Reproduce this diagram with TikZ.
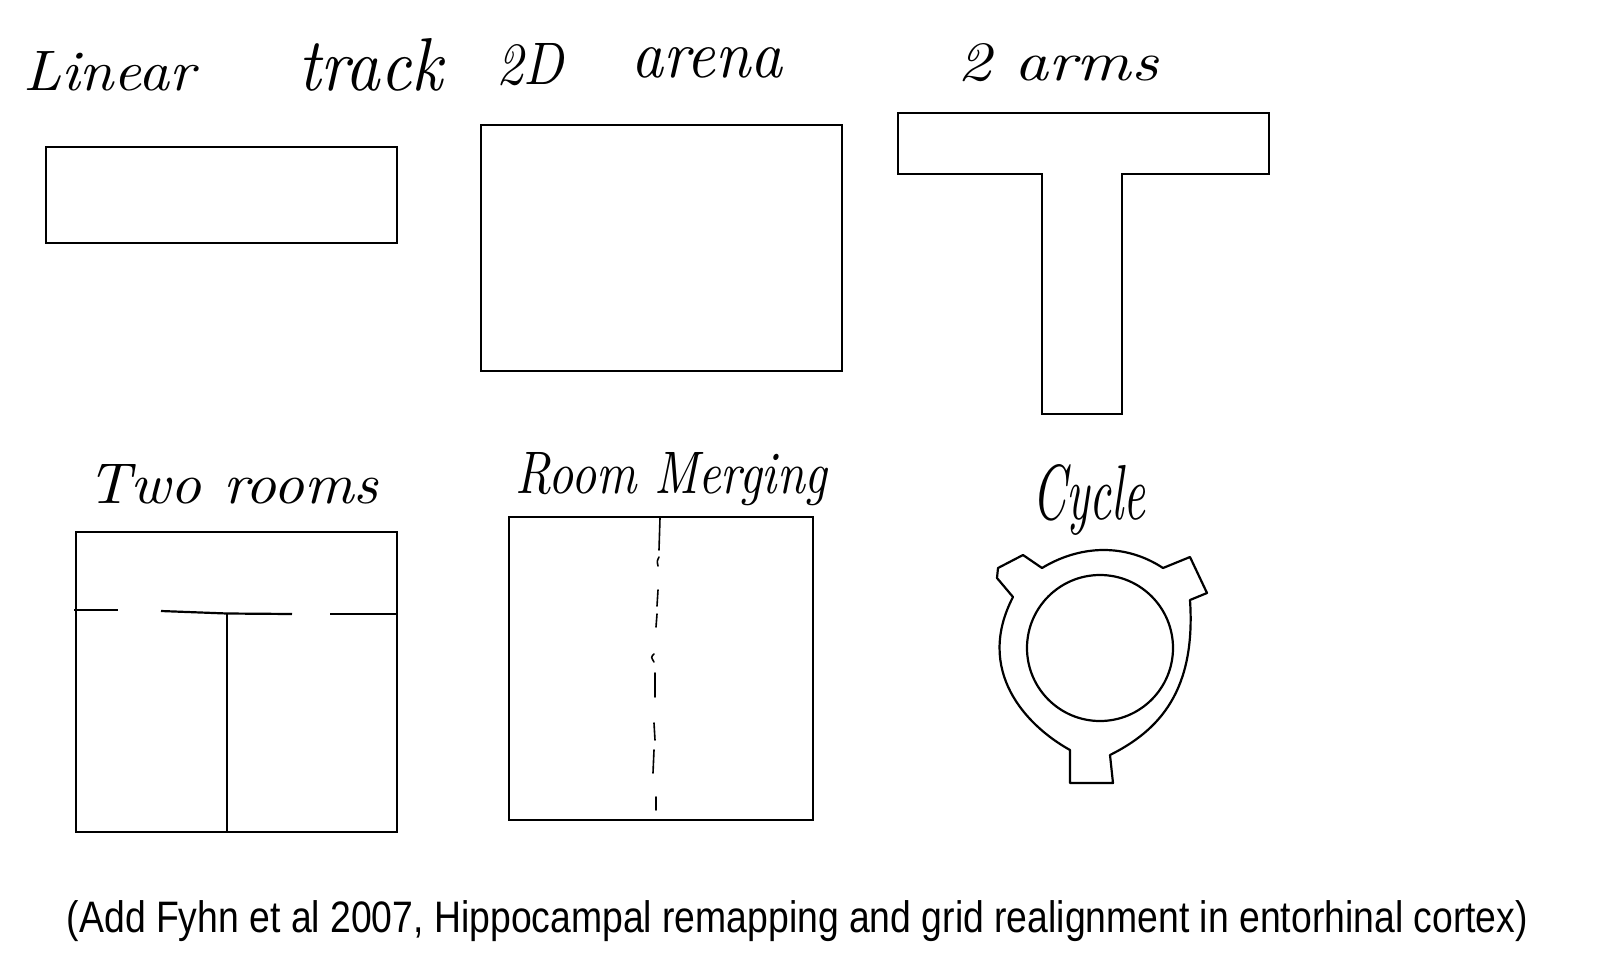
\documentclass[tikz,border=0pt]{standalone}
\usepackage{fontspec}
\setmainfont{Liberation Sans}
\newfontfamily\handfont{Latin Modern Roman}
\newcommand{\hwlabel}[3]{\resizebox{#1pt}{#2pt}{\handfont\itshape #3}}
\begin{document}
\begin{tikzpicture}[x=1pt,y=-1pt,
  wall/.style={draw=black, line width=2.2pt, line join=miter},
  room/.style={wall, inner sep=0pt, outer sep=0pt},
  hand/.style={inner sep=0pt, anchor=base west},
  dashwall/.style={draw=black, line width=1.6pt, line cap=round}]
\useasboundingbox (0,0) rectangle (1610,962);
\fill[white] (0,0) rectangle (1610,962);

% labels
\node[hand] (lLinear) at (23,90) {\hwlabel{172}{39}{Linear}};
\node[hand] (lTrack) at (298,90) {\hwlabel{144}{52}{track}};
\node[hand] (l2D) at (496,84) {\hwlabel{67}{41}{2D}};
\node[hand] (lArena) at (631,77) {\hwlabel{151}{30}{arena}};
\node[hand] (lArms) at (957,80) {\hwlabel{201}{37}{2 arms}};
\node[hand] (lTwo) at (87,503) {\hwlabel{291}{39}{Two rooms}};
\node[hand] (lMerge) at (515,493) {\hwlabel{312}{41}{Room Merging}};
\node[hand] (lCycle) at (1032,519) {\hwlabel{113}{55}{Cycle}};

% linear track
\node[room, minimum width=351pt, minimum height=96pt] (linear) at (221.5,195) {};
% 2D arena
\node[room, minimum width=361pt, minimum height=246pt] (arena) at (661.5,248) {};
% T maze
\draw[wall] (898,113) -- (1269,113) -- (1269,174) -- (1122,174) -- (1122,414)
  -- (1042,414) -- (1042,174) -- (898,174) -- cycle;

% two rooms
\node[room, minimum width=321pt, minimum height=300pt] (tworooms) at (236.5,682) {};
\coordinate (wA) at (74,610);
\coordinate (wB) at (118,610);
\coordinate (wC) at (161,611);
\coordinate (wD) at (292,614);
\coordinate (wE) at (330,614);
\coordinate (wF) at (tworooms.east |- wE);
\coordinate (wT) at (227,613.5);
\draw[wall] (wA) -- (wB);
\draw[wall] (wC) -- (wT) -- (wD);
\draw[wall] (wE) -- (wF);
\draw[wall] (wT) -- (wT |- tworooms.south);

% room merging
\node[room, minimum width=304pt, minimum height=303pt] (merge) at (661,668.5) {};
\draw[dashwall] (660,518) -- (659,550);
\draw[dashwall] (659,557) .. controls (657,561) .. (658,566);
\draw[dashwall] (658,590) -- (657,606);
\draw[dashwall] (657,614) -- (656,627);
\draw[dashwall] (654,654) .. controls (651,657) .. (654,662);
\draw[dashwall] (655,673) -- (655,697);
\draw[dashwall] (654,723) -- (655,740);
\draw[dashwall] (654,750) -- (653,773);
\draw[dashwall] (656,797) -- (656,810);

% cycle
\node[circle, draw=black, line width=2.2pt, minimum size=146pt, inner sep=0pt] (inner) at (1100,648) {};
\draw[wall, line join=round] (1042,568) .. controls (1080,545) and (1125,543) .. (1163,568)
  -- (1190,557) -- (1207,593) -- (1190,600)
  .. controls (1196,690) and (1160,730) .. (1110,755)
  -- (1113,783) -- (1070,783) -- (1070,750)
  .. controls (1025,725) and (975,670) .. (1013,597)
  -- (997,578) -- (998,568) -- (1023,555) -- cycle;

% caption
\node[inner sep=0pt, anchor=center] (caption) at (797.5,921)
  {\scalebox{1}[1.18]{\resizebox{1461pt}{!}{\fontsize{30}{36}\selectfont (Add Fyhn et al 2007, Hippocampal remapping and grid realignment in entorhinal cortex)}}};
\end{tikzpicture}
\end{document}
